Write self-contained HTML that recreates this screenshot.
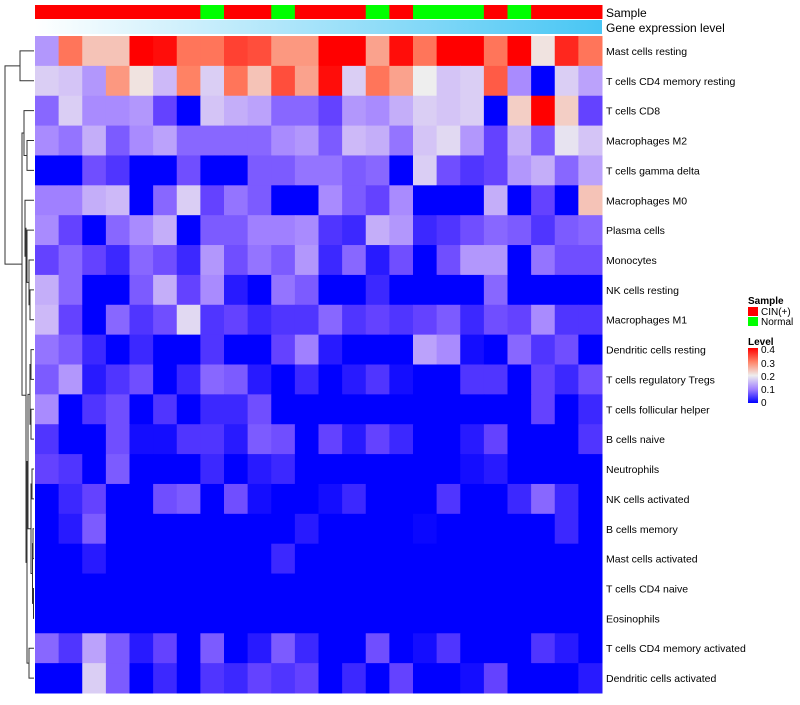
<!DOCTYPE html>
<html><head><meta charset="utf-8"><style>
body{margin:0;background:#fff;}
svg text{font-family:"Liberation Sans",sans-serif;}
</style></head><body>
<svg id="chart" width="800" height="700" xmlns="http://www.w3.org/2000/svg">
<defs>
<linearGradient id="gexp" x1="0" x2="1" y1="0" y2="0"><stop offset="0" stop-color="#ffffff"/><stop offset="1" stop-color="#48c6f4"/></linearGradient>
<linearGradient id="lvl" x1="0" x2="0" y1="0" y2="1"><stop offset="0" stop-color="#ff0000"/><stop offset="0.25" stop-color="#ff8266"/><stop offset="0.5" stop-color="#eeeeee"/><stop offset="0.75" stop-color="#a080ff"/><stop offset="1" stop-color="#0000ff"/></linearGradient>
</defs>
<g id="dendro" stroke="#333" stroke-width="1" fill="none"></g>
<g id="cells"></g>
<g id="samplebar"></g>
<rect x="35" y="20" width="567" height="14" fill="url(#gexp)"/>
<text x="606" y="17" font-size="12">Sample</text>
<text x="606" y="32" font-size="12">Gene expression level</text>
<g id="rowlabels"></g>
<g font-size="10">
<text x="748" y="304" font-weight="bold">Sample</text>
<rect x="748" y="307" width="10" height="9" fill="#ff0000"/>
<text x="761" y="315">CIN(+)</text>
<rect x="748" y="317" width="10" height="9" fill="#00ff00"/>
<text x="761" y="325">Normal</text>
<text x="748" y="345" font-weight="bold">Level</text>
<rect x="748" y="348" width="10" height="55" fill="url(#lvl)"/>
<text x="761" y="353">0.4</text>
<text x="761" y="367">0.3</text>
<text x="761" y="380">0.2</text>
<text x="761" y="393">0.1</text>
<text x="761" y="406">0</text>
</g>
</svg>
<script>
const rowNames=["Mast cells resting","T cells CD4 memory resting","T cells CD8","Macrophages M2","T cells gamma delta","Macrophages M0","Plasma cells","Monocytes","NK cells resting","Macrophages M1","Dendritic cells resting","T cells regulatory  Tregs","T cells follicular helper","B cells naive","Neutrophils","NK cells activated","B cells memory","Mast cells activated","T cells CD4 naive","Eosinophils","T cells CD4 memory activated","Dendritic cells activated"];
const sampleGroups=["C","C","C","C","C","C","C","N","C","C","N","C","C","C","N","C","N","N","N","C","N","C","C","C"];
const r0=[.12,.31,.24,.24,.4,.39,.31,.31,.35,.34,.28,.28,.4,.4,.27,.39,.31,.4,.4,.31,.4,.21,.37,.31];
const r1=[.17,.16,.12,.28,.21,.15,.3,.17,.31,.24,.34,.27,.39,.17,.31,.27,.2,.16,.17,.33,.11,0,.17,.13];
const r2=[.08,.17,.11,.11,.12,.05,0,.16,.14,.13,.08,.08,.05,.12,.11,.14,.17,.16,.17,0,.23,.4,.23,.05];
const r3=[.11,.09,.14,.07,.11,.13,.08,.08,.08,.08,.11,.12,.07,.15,.14,.09,.16,.18,.12,.05,.14,.07,.19,.16];
const r4=[0,0,.06,.04,0,0,.06,0,0,.07,.07,.09,.09,.07,.08,0,.17,.06,.04,.05,.12,.14,.08,.13];
const r5=[.1,.1,.14,.15,0,.08,.17,.05,.09,.07,0,0,.11,.07,.05,.11,0,0,0,.14,0,.05,0,.24];
const r6=[.11,.05,0,.08,.11,.14,0,.07,.07,.1,.1,.11,.04,.03,.14,.12,.03,.04,.06,.08,.07,.04,.07,.08];
const r7=[.05,.08,.05,.03,.08,.06,.03,.12,.06,.09,.07,.12,.03,.08,.02,.06,0,.06,.12,.12,0,.09,.06,.06];
const r8=[.14,.08,0,0,.07,.14,.05,.11,.02,0,.09,.07,0,0,.03,0,0,0,0,.08,0,0,0,0];
const r9=[.15,.05,0,.08,.04,.06,.18,.04,.05,.03,.04,.04,.08,.04,.05,.04,.05,.07,.03,.06,.05,.11,.04,.04];
const r10=[.09,.07,.03,0,.03,0,0,.04,0,0,.05,.1,.02,0,0,0,.13,.11,.01,0,.08,.04,.06,0];
const r11=[.07,.12,.02,.04,.06,0,.03,.08,.07,.02,0,.03,0,.02,.04,.01,0,0,.04,.04,0,.05,.03,.06];
const r12=[.11,0,.04,.06,0,.04,0,.03,.03,.06,0,0,0,0,0,0,0,0,0,0,0,.05,0,.03];
const r13=[.04,0,0,.06,.01,.01,.04,.04,.02,.07,.06,0,.05,.02,.05,.03,0,0,.02,.05,0,0,0,.04];
const r14=[.05,.04,0,.07,0,0,0,.03,0,.02,.03,0,0,0,0,0,0,0,.01,.02,0,0,0,0];
const r15=[0,.03,.05,0,0,.06,.07,0,.06,.01,0,0,.01,.03,0,0,0,.04,0,0,.03,.08,.03,0];
const r16=[0,.02,.07,0,0,0,0,0,0,0,0,.02,0,0,0,0,.005,0,0,0,0,0,.03,0];
const r17=[0,0,.02,0,0,0,0,0,0,0,.03,0,0,0,0,0,0,0,0,0,0,0,0,0];
const r18=[0,0,0,0,0,0,0,0,0,0,0,0,0,0,0,0,0,0,0,0,0,0,0,0];
const r19=[0,0,0,0,0,0,0,0,0,0,0,0,0,0,0,0,0,0,0,0,0,0,0,0];
const r20=[.08,.04,.13,.07,.02,.05,0,.07,0,.02,.07,.03,0,0,.06,0,.01,.04,0,0,0,.04,.02,0];
const r21=[0,0,.17,.07,0,.03,0,.04,.03,.05,.04,.05,0,.03,0,.05,0,0,.01,.05,0,0,0,.02];
const values=[r0,r1,r2,r3,r4,r5,r6,r7,r8,r9,r10,r11,r12,r13,r14,r15,r16,r17,r18,r19,r20,r21];

const NS="http://www.w3.org/2000/svg";
const X0=35,X1=602,Y0=36,Y1=693;
const nC=r0.length,nR=values.length;
const cw=(X1-X0)/nC,rh=(Y1-Y0)/nR;
function xPos(i){return X0+i*cw;}
function yPos(j){return Y0+j*rh;}
const stops=[[0,[0,0,255]],[0.05,[100,66,255]],[0.1,[160,128,255]],[0.15,[205,185,248]],[0.2,[238,238,238]],[0.3,[255,130,100]],[0.4,[255,0,0]]];
function colorOf(v){
  v=Math.max(0,Math.min(0.4,v));
  for(let k=1;k<stops.length;k++){
    if(v<=stops[k][0]){const a=stops[k-1],b=stops[k];const t=(v-a[0])/(b[0]-a[0]);
      const c=a[1].map((x,i)=>Math.round(x+(b[1][i]-x)*t));return `rgb(${c})`;}
  }
  return "rgb(255,0,0)";
}
const cells=document.getElementById('cells');
values.forEach((row,j)=>row.forEach((v,i)=>{
  const r=document.createElementNS(NS,'rect');
  r.setAttribute('x',xPos(i));r.setAttribute('y',yPos(j));
  r.setAttribute('width',cw+0.5);r.setAttribute('height',rh+0.5);
  r.setAttribute('fill',colorOf(v));
  
  
  cells.appendChild(r);
}));
const sb=document.getElementById('samplebar');
sampleGroups.forEach((g,i)=>{
  const r=document.createElementNS(NS,'rect');
  r.setAttribute('x',xPos(i));r.setAttribute('y',5);
  r.setAttribute('width',cw+0.5);r.setAttribute('height',14);
  r.setAttribute('fill',g==="C"?"#ff0000":"#00ff00");
  
  
  sb.appendChild(r);
});
const rl=document.getElementById('rowlabels');
rowNames.forEach((n,j)=>{
  const t=document.createElementNS(NS,'text');
  t.setAttribute('x',606);t.setAttribute('y',yPos(j)+rh/2+4);
  t.setAttribute('font-size','10.5');t.textContent=n;
  
  
  rl.appendChild(t);
});
// dendrogram
const dg=document.getElementById('dendro');
function yc(j){return yPos(j)+rh/2;}
function node(a,b,x){ // a,b: [x,y]
  const p=document.createElementNS(NS,'path');
  p.setAttribute('d',`M${a[0]},${a[1]}H${x}V${b[1]}H${b[0]}`);
  
  
  dg.appendChild(p);
  return [x,(a[1]+b[1])/2];
}
const L=j=>[34,yc(j)];
const n01=node(L(0),L(1),20);
const n34=node(L(3),L(4),27);
const n234=node(L(2),n34,24);
const n89=node(L(8),L(9),30);
const n789=node(L(7),n89,29);
const n6789=node(L(6),n789,27);
const n56=node(L(5),n6789,25);
const n10_11=node(L(10),L(11),31);
const n12_13=node(L(12),L(13),31);
const n10_13=node(n10_11,n12_13,30);
const n14_15=node(L(14),L(15),32);
const n16_17=node(L(16),L(17),33);
const n18_19=node(L(18),L(19),33.5);
const n16_19=node(n16_17,n18_19,32.5);
const n14_19=node(n14_15,n16_19,31);
const n10_19=node(n10_13,n14_19,28);
const n20_21=node(L(20),L(21),29);
const n10_21=node(n10_19,n20_21,27);
const n5_21=node(n56,n10_21,26);
const n2_21=node(n234,n5_21,22);
node(n01,n2_21,5);
</script>
</body></html>
